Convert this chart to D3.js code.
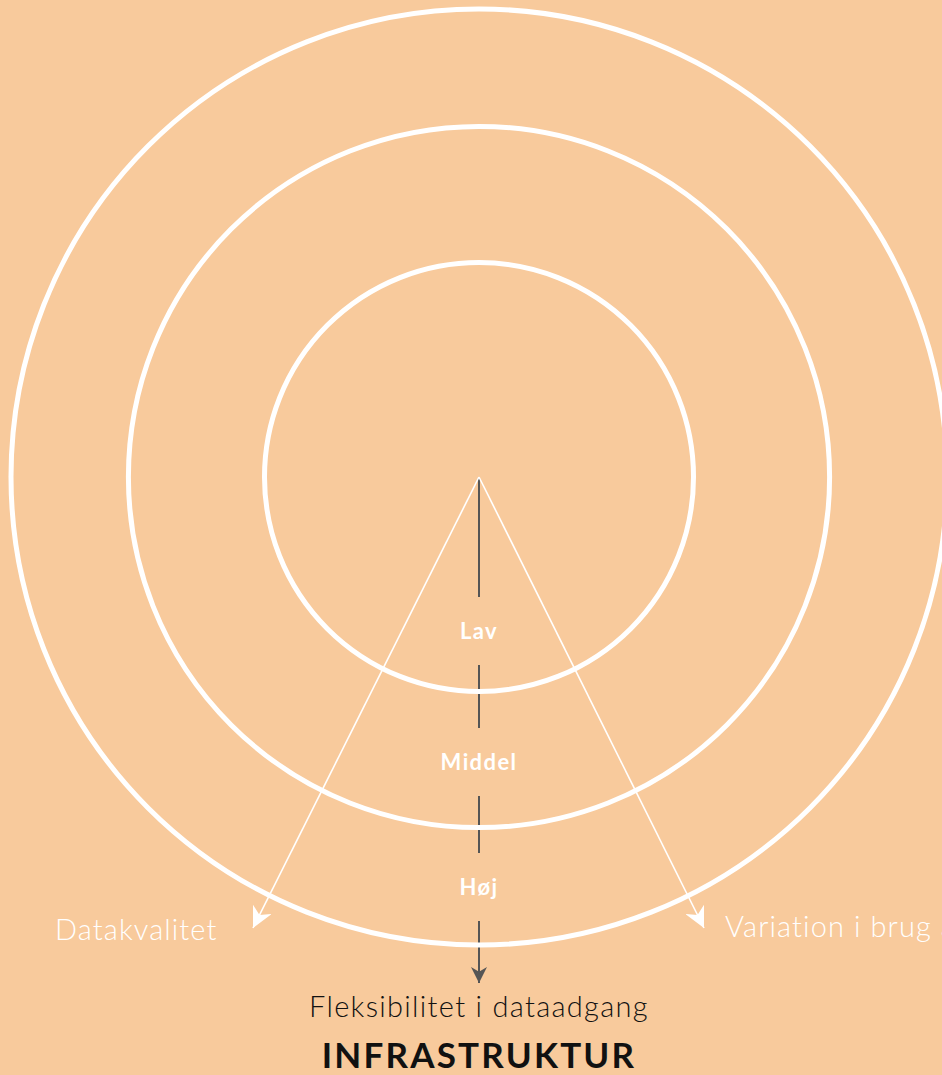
<!DOCTYPE html>
<html>
<head>
<meta charset="utf-8">
<script src="https://cdn.jsdelivr.net/npm/d3@7"></script>
<style>
  html, body { margin: 0; padding: 0; background: #f8ca9c; overflow: hidden; }
  svg { display: block; }
</style>
</head>
<body>
<svg id="chart" width="942" height="1075"></svg>
<script>
// levels from the centre outwards
var levels = ["Lav", "Middel", "Høj"];
var ringSteps = [1, 2, 3];
var axisNames = ["Datakvalitet", "Variation i brug af data"];
var centerAxisName = "Fleksibilitet i dataadgang";
var chartTitle = "INFRASTRUKTUR";

var svg = d3.select("#chart"),
    width = +svg.attr("width"),
    height = +svg.attr("height");

var cx = 479, cy = 477;
var font = "Lato, 'Open Sans', sans-serif";

// ring radius along the level axis
var r = d3.scaleLinear().domain([0, 1, 2, 3]).range([0, 214.5, 350.6, 468]);
// where the level labels sit (distance below centre)
var labelY = d3.scaleLinear().domain([0, 1, 2]).range([154, 285, 410]);

var defs = svg.append("defs");
defs.append("marker")
    .attr("id", "grayArrow")
    .attr("viewBox", "0 0 10 10")
    .attr("refX", 10).attr("refY", 5)
    .attr("markerWidth", 8).attr("markerHeight", 8)
    .attr("markerUnits", "strokeWidth")
    .attr("orient", "auto")
  .append("path")
    .attr("d", "M0,0 L10,5 L0,10 L3,5 Z")
    .attr("fill", "#555");
defs.append("marker")
    .attr("id", "whiteArrow")
    .attr("viewBox", "0 0 10 10")
    .attr("refX", 10).attr("refY", 5)
    .attr("markerWidth", 13).attr("markerHeight", 13)
    .attr("markerUnits", "strokeWidth")
    .attr("orient", "auto")
  .append("path")
    .attr("d", "M0,0 L10,5 L0,10 L3,5 Z")
    .attr("fill", "#fff");

var g = svg.append("g");

// vertical gray axis, broken around each level label
var gap = 34;
var stops = [0];
levels.forEach(function(d, i) {
  stops.push(labelY(i) - gap);
  stops.push(labelY(i) + gap);
});
stops.push(506);
var segs = [];
for (var i = 0; i < stops.length; i += 2) segs.push([stops[i], stops[i + 1]]);

g.append("g").selectAll("line")
    .data(segs)
    .enter().append("line")
    .attr("x1", cx).attr("x2", cx)
    .attr("y1", function(d) { return cy + d[0]; })
    .attr("y2", function(d) { return cy + d[1]; })
    .attr("stroke", "#555")
    .attr("stroke-width", 2)
    .attr("marker-end", function(d, i) { return i === segs.length - 1 ? "url(#grayArrow)" : null; });

// rings
g.append("g").selectAll("circle")
    .data(ringSteps)
    .enter().append("circle")
    .attr("cx", cx).attr("cy", cy)
    .attr("r", function(d) { return r(d); })
    .attr("fill", "none")
    .attr("stroke", "#fff")
    .attr("stroke-width", 5);

// two slanted white axes
var tips = [[253, 928], [704, 928]];
g.append("g").selectAll("line")
    .data(tips)
    .enter().append("line")
    .attr("x1", cx).attr("y1", cy)
    .attr("x2", function(d) { return d[0]; })
    .attr("y2", function(d) { return d[1]; })
    .attr("stroke", "#fff")
    .attr("stroke-width", 1.6)
    .attr("marker-end", "url(#whiteArrow)");

// level labels
g.append("g").selectAll("text")
    .data(levels)
    .enter().append("text")
    .attr("x", cx)
    .attr("y", function(d, i) { return cy + labelY(i); })
    .attr("dy", "0.35em")
    .attr("text-anchor", "middle")
    .attr("font-family", font)
    .attr("font-weight", 700)
    .attr("font-size", 22)
    .attr("letter-spacing", 1.4)
    .attr("fill", "#fff")
    .text(function(d) { return d; });

// axis names
g.append("text")
    .attr("x", 55).attr("y", 940)
    .attr("font-family", font)
    .attr("font-weight", 300)
    .attr("font-size", 29)
    .attr("letter-spacing", 1.1)
    .attr("fill", "#fff")
    .text(axisNames[0]);

// runs past the right edge, as in the original
g.append("text")
    .attr("x", 725).attr("y", 937)
    .attr("font-family", font)
    .attr("font-weight", 300)
    .attr("font-size", 29)
    .attr("letter-spacing", 1.1)
    .attr("fill", "#fff")
    .text(axisNames[1]);

g.append("text")
    .attr("x", cx).attr("y", 1017)
    .attr("text-anchor", "middle")
    .attr("font-family", font)
    .attr("font-weight", 300)
    .attr("font-size", 29)
    .attr("letter-spacing", 1.3)
    .attr("fill", "#111")
    .text(centerAxisName);

g.append("text")
    .attr("x", cx).attr("y", 1068)
    .attr("text-anchor", "middle")
    .attr("font-family", font)
    .attr("font-weight", 700)
    .attr("font-size", 35)
    .attr("letter-spacing", 2.2)
    .attr("fill", "#111")
    .text(chartTitle);
</script>
</body>
</html>
